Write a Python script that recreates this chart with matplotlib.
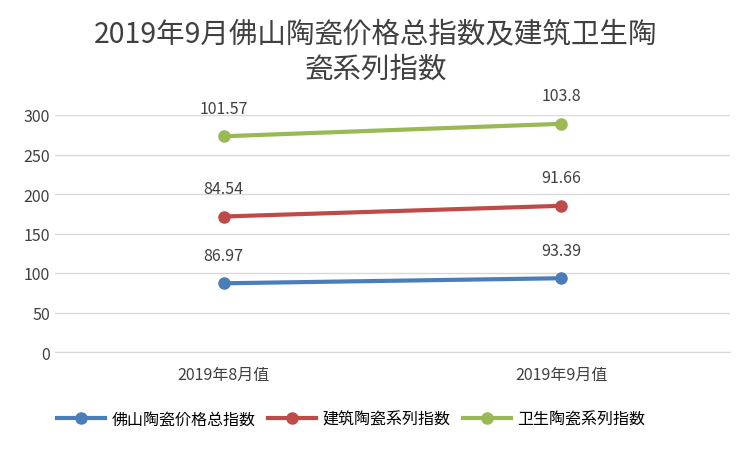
import matplotlib
matplotlib.use("Agg")
import matplotlib.pyplot as plt
from matplotlib import font_manager
import numpy as np

cjk = [f.name for f in font_manager.fontManager.ttflist if "CJK" in f.name]
plt.rcParams["font.family"] = sorted(set(cjk))[:1] + ["DejaVu Sans"] if cjk else ["DejaVu Sans"]

categories = ["2019年8月值", "2019年9月值"]
series_names = ["佛山陶瓷价格总指数", "建筑陶瓷系列指数", "卫生陶瓷系列指数"]
series_values = [
    [86.97, 93.39],
    [84.54, 91.66],
    [101.57, 103.8],
]
colors = ["#4a7ebb", "#be4b48", "#98b954"]
title = "2019年9月佛山陶瓷价格总指数及建筑卫生陶\n瓷系列指数"

fig = plt.figure(figsize=(7.52, 4.52), dpi=100)
ax = fig.add_axes([55 / 752, 1 - 353 / 452, 675 / 752, 237 / 452])

x = np.arange(len(categories)) + 0.5
base = np.zeros(len(categories))
for name, vals, c in zip(series_names, series_values, colors):
    top = base + np.array(vals)
    ax.plot(x, top, color=c, linewidth=3, marker="o", markersize=8, label=name)
    for xi, yi, v in zip(x, top, vals):
        ax.annotate(f"{v:g}", (xi, yi), xytext=(0, 14), textcoords="offset points",
                    ha="center", va="bottom", fontsize=11.5, color="#404040")
    base = top

ax.set_xlim(0, 2)
ax.set_ylim(0, 300)
ax.set_yticks(range(0, 301, 50))
ax.set_xticks(x)
ax.set_xticklabels(categories, fontsize=11.5, color="#404040")
ax.tick_params(axis="y", labelsize=11.5, colors="#404040", length=0)
ax.tick_params(axis="x", length=0, pad=10)
ax.grid(axis="y", color="#d9d9d9", linewidth=1)
ax.set_axisbelow(True)
for s in ["top", "right", "left"]:
    ax.spines[s].set_visible(False)
ax.spines["bottom"].set_color("#d9d9d9")

fig.suptitle(title, fontsize=20.5, color="#404040", y=0.955, linespacing=1.2)
fig.legend(loc="lower center", bbox_to_anchor=(0.467, 0.02), ncol=3, frameon=False,
           fontsize=11.5, handlelength=3, columnspacing=0.8, handletextpad=0.4)

fig.savefig("out.png", dpi=100)
